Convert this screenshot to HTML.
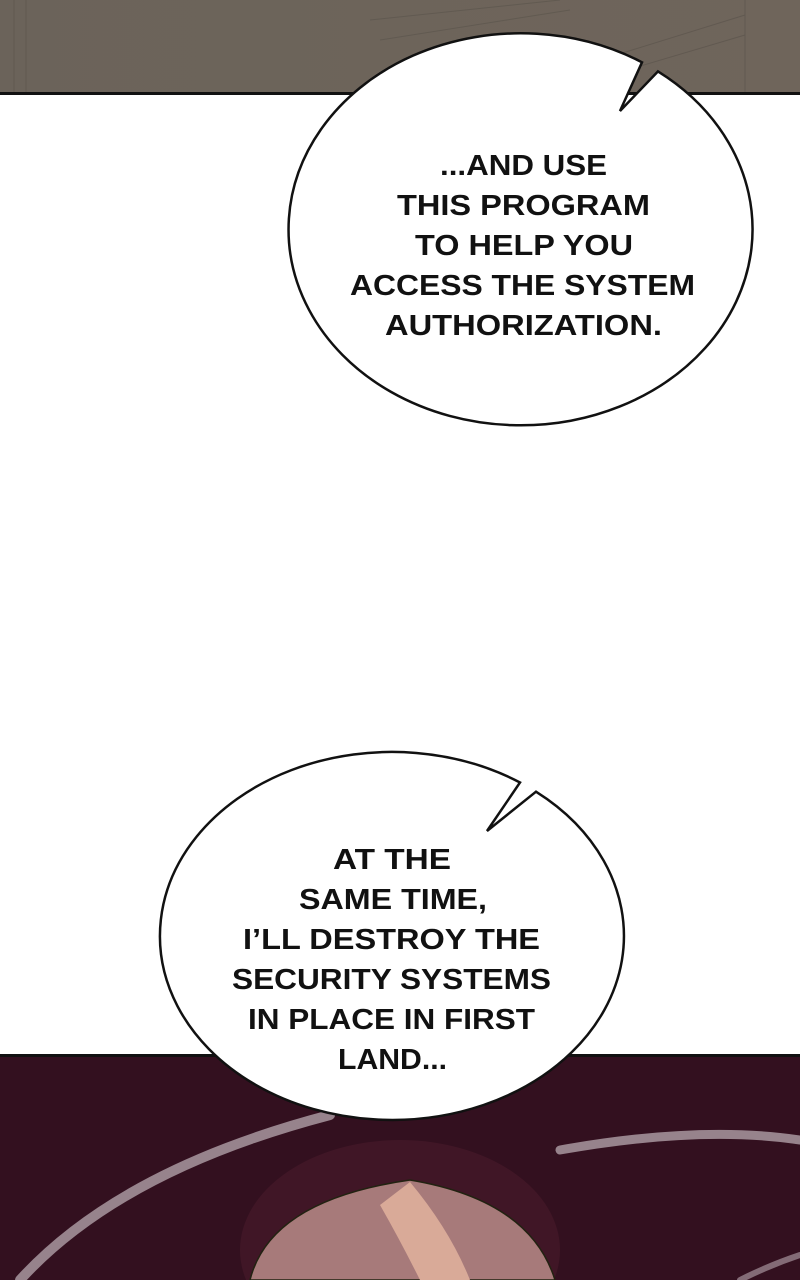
<!DOCTYPE html>
<html><head><meta charset="utf-8"><style>
html,body{margin:0;padding:0;background:#fff;width:800px;height:1280px;overflow:hidden}
svg{display:block}
text{font-family:"Liberation Sans",sans-serif;font-weight:bold;font-size:29px;fill:#111}
</style></head><body>
<svg width="800" height="1280" viewBox="0 0 800 1280" xmlns="http://www.w3.org/2000/svg">
<defs>
<linearGradient id="tg" x1="0" x2="1"><stop offset="0" stop-color="#6b635a"/><stop offset="1" stop-color="#6f655b"/></linearGradient>
</defs>
<rect x="0" y="0" width="800" height="93" fill="url(#tg)"/>
<g stroke="#5c554d" stroke-width="1" fill="none" opacity="0.7">
<line x1="14" y1="0" x2="14" y2="92"/><line x1="26" y1="0" x2="26" y2="92"/>
<path d="M370 20 L560 0 M380 40 L570 10 M600 60 L745 15 M610 75 L745 35"/>
<line x1="745" y1="0" x2="745" y2="92"/>
</g>
<rect x="0" y="92" width="800" height="3" fill="#111"/>
<rect x="0" y="1055" width="800" height="225" fill="#33101f"/>
<rect x="0" y="1054" width="800" height="3" fill="#111"/>
<g fill="none" stroke="#b9a9b1" stroke-linecap="round">
<path d="M20 1280 Q120 1170 330 1115" stroke-width="10" opacity="0.75"/>
<path d="M560 1150 Q700 1125 800 1140" stroke-width="9" opacity="0.75"/>
<path d="M740 1280 Q770 1265 800 1255" stroke-width="6" opacity="0.6"/>
</g>
<ellipse cx="400" cy="1250" rx="160" ry="110" fill="#4a1a2b" opacity="0.6"/>
<path d="M250 1280 Q270 1200 410 1180 Q530 1200 555 1280 Z" fill="#a77a7a" stroke="#221" stroke-width="1.5"/>
<path d="M380 1205 Q400 1240 420 1280 L470 1280 Q450 1230 410 1182 Z" fill="#d9aa98"/>
<!-- bubble 1 -->
<path d="M658 71.4 L620 111 L642 62.3 A232 196 0 1 0 658 71.4 Z" fill="#fff" stroke="#111" stroke-width="2.5" stroke-linejoin="miter"/>
<!-- bubble 2 -->
<path d="M536 791.7 L487 831 L520 782.5 A232 184 0 1 0 536 791.7 Z" fill="#fff" stroke="#111" stroke-width="2.5" stroke-linejoin="miter"/>
<g text-anchor="start">
<text x="440" y="175" textLength="167" lengthAdjust="spacingAndGlyphs">...AND USE</text>
<text x="397" y="215" textLength="253" lengthAdjust="spacingAndGlyphs">THIS PROGRAM</text>
<text x="415" y="255" textLength="218" lengthAdjust="spacingAndGlyphs">TO HELP YOU</text>
<text x="350" y="295" textLength="345" lengthAdjust="spacingAndGlyphs">ACCESS THE SYSTEM</text>
<text x="385" y="335" textLength="277" lengthAdjust="spacingAndGlyphs">AUTHORIZATION.</text>
<text x="333" y="869" textLength="118" lengthAdjust="spacingAndGlyphs">AT THE</text>
<text x="299" y="909" textLength="188" lengthAdjust="spacingAndGlyphs">SAME TIME,</text>
<text x="243" y="949" textLength="297" lengthAdjust="spacingAndGlyphs">I’LL DESTROY THE</text>
<text x="232" y="989" textLength="319" lengthAdjust="spacingAndGlyphs">SECURITY SYSTEMS</text>
<text x="248" y="1029" textLength="287" lengthAdjust="spacingAndGlyphs">IN PLACE IN FIRST</text>
<text x="338" y="1069" textLength="109" lengthAdjust="spacingAndGlyphs">LAND...</text>
</g>
</svg>
</body></html>
